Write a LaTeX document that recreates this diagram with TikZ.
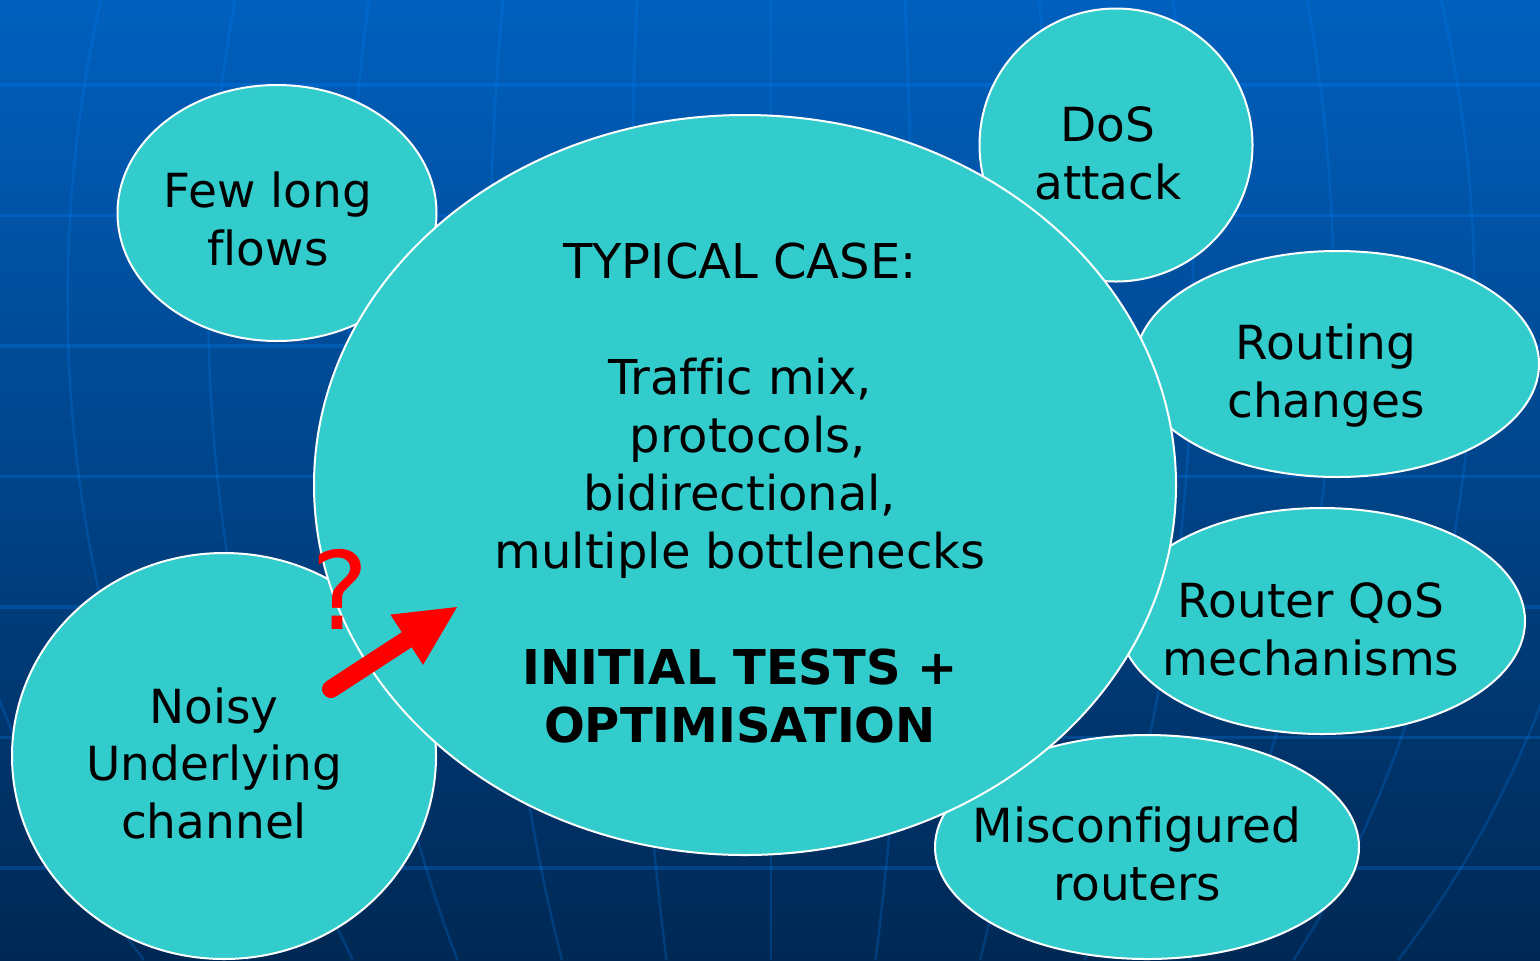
\documentclass[tikz,border=0pt]{standalone}
\usepackage{fontspec}
\setmainfont{DejaVu Sans}[Ligatures=NoCommon]
\usetikzlibrary{shapes.geometric,arrows.meta}

\definecolor{bgtop}{RGB}{0,96,190}
\definecolor{bgbottom}{RGB}{0,40,84}
\definecolor{gridblue}{RGB}{0,134,255}
\definecolor{bubblecyan}{HTML}{33CCCC}

\tikzset{
  bubble/.style={ellipse, draw=white, line width=1pt, fill=bubblecyan, inner sep=0pt},
  bubbletext/.style={align=center, anchor=base, inner sep=0pt, text=black,
    font=\fontsize{23.5pt}{28.75pt}\selectfont},
  gridline/.style={gridblue, opacity=.25, line width=1.75pt},
  meridian/.style={gridblue, opacity=.22, line width=1.25pt},
  qmark/.style={anchor=base, inner sep=0pt, text=red, font=\fontsize{54pt}{60pt}\selectfont},
  pointer/.style={red, line width=9pt, line cap=round,
    -{Triangle[length=30pt,width=30pt,line width=0pt]}}
}

\begin{document}
\begin{tikzpicture}[x=0.5pt, y=-0.5pt]
  \useasboundingbox (0,0) rectangle (1540,960);
  \shade[top color=bgtop, bottom color=bgbottom] (0,0) rectangle (1540,960);

  % globe grid in the background
  \begin{scope}
    \clip (0,0) rectangle (1540,960);
    \foreach \y in {85,215.5,346,476.5,607,737.5,868}
      \draw[gridline] (0,\y) -- (1540,\y);
    \foreach \k in {-6,...,6}
      \draw[meridian] plot[domain=0:960, samples=30, variable=\t]
        ({771+134*\k*1.05*sqrt(1-((\t-300)/986)^2)}, \t);
  \end{scope}

  % the bubbles round the typical case
  \node[bubble, minimum width=159.5pt, minimum height=128pt] (flows) at (277,213) {};
  \node[bubble, minimum width=136.5pt, minimum height=136.5pt] (dos) at (1116,145) {};
  \node[bubble, minimum width=202pt, minimum height=113pt] (routing) at (1337,364) {};
  \node[bubble, minimum width=203pt, minimum height=113pt] (qos) at (1322,621) {};
  \node[bubble, minimum width=212pt, minimum height=112pt] (misconf) at (1147,847) {};
  \node[bubble, minimum width=212pt, minimum height=203pt] (noisy) at (224,756) {};
  \node[bubble, minimum width=431pt, minimum height=370pt] (typical) at (745,485) {};

  % labels sit on the baseline of their last line
  \node[bubbletext] (flowslabel) at (268,265) {Few long\\flows};
  \node[bubbletext] (doslabel) at (1108,199) {DoS\\attack};
  \node[bubbletext] (routinglabel) at (1326,417) {Routing\\changes};
  \node[bubbletext] (qoslabel) at (1311,675) {Router QoS\\mechanisms};
  \node[bubbletext] (misconflabel) at (1137,900) {Misconfigured\\routers};
  \node[bubbletext] (noisylabel) at (214,838) {Noisy\\Underlying\\channel};
  \node[bubbletext, font=\fontsize{24pt}{29pt}\selectfont] (typicallabel) at (740,742)
    {TYPICAL CASE:\\[29pt]Traffic mix,\\\ protocols,\\bidirectional,\\multiple bottlenecks\\[29pt]%
     \textbf{INITIAL TESTS +}\\\textbf{OPTIMISATION}};

  % noise pushing into the typical case
  \node[qmark] (query) at (340,629) {?};
  \coordinate (arrowtail) at (331,689);
  \coordinate (arrowtip) at (457,607);
  \draw[pointer] (arrowtail) -- (arrowtip);
\end{tikzpicture}
\end{document}
